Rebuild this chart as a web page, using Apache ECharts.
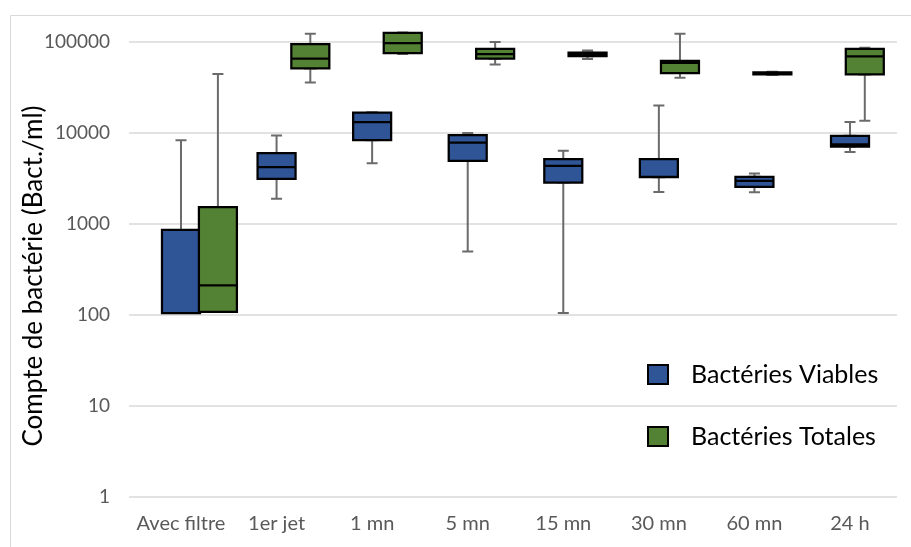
<!DOCTYPE html>
<html>
<head>
<meta charset="utf-8">
<script src="https://cdn.jsdelivr.net/npm/echarts@6/dist/echarts.min.js"></script>
<style>
html,body{margin:0;padding:0;background:#fff;}
#c{width:911px;height:547px;}
</style>
</head>
<body>
<div id="c"></div>
<script>
// ---- data ----
const categories = ['Avec filtre', '1er jet', '1 mn', '5 mn', '15 mn', '30 mn', '60 mn', '24 h'];
// [min, Q1, median, Q3, max]
const viables = [
  [105, 105, 105, 860, 8300],
  [1890, 3130, 4210, 6000, 9400],
  [4660, 8350, 13200, 16700, 16900],
  [500, 4940, 7850, 9470, 9970],
  [105, 2850, 4350, 5150, 6370],
  [2250, 3270, 3300, 5160, 20100],
  [2235, 2560, 2980, 3300, 3580],
  [6170, 7100, 7500, 9310, 13180]
];
const totales = [
  [108, 108, 212, 1530, 44400],
  [35900, 51200, 65500, 95000, 123400],
  [74000, 75700, 97500, 125600, 127000],
  [56700, 65500, 73800, 83800, 100000],
  [65200, 69800, 73000, 76200, 80800],
  [40500, 45600, 59000, 62000, 123400],
  [43500, 44000, 45000, 46500, 47000],
  [13600, 44000, 69500, 83800, 86500]
];
const yTicks = [1, 10, 100, 1000, 10000, 100000];
const seriesNames = ['Bactéries Viables', 'Bactéries Totales'];
const seriesColors = ['#2F5597', '#548235'];
const yName = 'Compte de bactérie (Bact./ml)';

// box-only view (whiskers collapsed to the box edges)
const boxOnly = d => d.map(r => [r[1], r[1], r[2], r[3], r[3]]);

const FONT = 'Lato';
const TOP = 42, H = 455;
const gridBlue = {left: 133.2, width: 764.6, top: TOP, height: H};
const gridGreen = {left: 171.7, width: 756.6, top: TOP, height: H};

const hiddenX = i => ({type: 'category', data: categories, gridIndex: i, show: false});
const hiddenY = i => ({type: 'log', logBase: 10, min: yTicks[0], max: yTicks[yTicks.length - 1], gridIndex: i, show: false});

const legendAt = (k, top) => ({
  data: [{name: seriesNames[k], itemStyle: {color: seriesColors[k], borderColor: '#000', borderWidth: 2}}],
  orient: 'vertical',
  left: 647, top: top, padding: 0,
  icon: 'rect',
  itemWidth: 20, itemHeight: 19,
  textStyle: {fontSize: 25, color: '#000', fontFamily: FONT, lineHeight: 19, padding: [0, 0, 0, 18]},
  selectedMode: false
});

const chart = echarts.init(document.getElementById('c'), null, {renderer: 'canvas'});
chart.setOption({
  animation: false,
  backgroundColor: '#fff',
  textStyle: {fontFamily: FONT},
  grid: [
    {left: 129, width: 768, top: TOP, height: H},
    gridBlue, gridBlue, gridGreen, gridGreen
  ],
  xAxis: [
    {type: 'category', data: categories, gridIndex: 0, axisLine: {show: false}, axisTick: {show: false}, axisLabel: {show: false}},
    {type: 'category', data: categories, gridIndex: 1, axisLine: {show: false}, axisTick: {show: false},
      axisLabel: {color: '#595959', fontSize: 20, fontFamily: FONT, margin: 17, interval: 0}},
    hiddenX(2), hiddenX(3), hiddenX(4)
  ],
  yAxis: [
    {type: 'log', logBase: 10, min: yTicks[0], max: yTicks[yTicks.length - 1], gridIndex: 0,
      axisLine: {show: false}, axisTick: {show: false},
      axisLabel: {color: '#595959', fontSize: 19, fontFamily: FONT, margin: 19, formatter: v => String(Math.round(v))},
      splitLine: {show: true, lineStyle: {color: '#d9d9d9', width: 1.5}}},
    hiddenY(1), hiddenY(2), hiddenY(3), hiddenY(4)
  ],
  legend: [legendAt(0, 362), legendAt(1, 424)],
  graphic: [
    {type: 'rect', shape: {x: 10.5, y: 15.5, width: 1000, height: 1000}, style: {fill: 'none', stroke: '#d9d9d9', lineWidth: 1}, silent: true, z: -1},
    {type: 'text', x: 34, y: 276, rotation: Math.PI / 2,
      style: {text: yName, fontSize: 26, fontFamily: FONT, fill: '#000', align: 'center', verticalAlign: 'middle'}}
  ],
  series: [
    {name: 'wv', type: 'boxplot', xAxisIndex: 1, yAxisIndex: 1, data: viables, boxWidth: [11, 11], z: 2,
      itemStyle: {color: 'rgba(0,0,0,0)', borderColor: '#6b6b6b', borderWidth: 2}, emphasis: {disabled: true}, silent: true},
    {name: seriesNames[0], type: 'boxplot', xAxisIndex: 2, yAxisIndex: 2, data: boxOnly(viables), boxWidth: [38, 38], z: 3,
      itemStyle: {color: seriesColors[0], borderColor: '#000', borderWidth: 2.25}, emphasis: {disabled: true}},
    {name: 'wt', type: 'boxplot', xAxisIndex: 3, yAxisIndex: 3, data: totales, boxWidth: [11, 11], z: 2,
      itemStyle: {color: 'rgba(0,0,0,0)', borderColor: '#6b6b6b', borderWidth: 2}, emphasis: {disabled: true}, silent: true},
    {name: seriesNames[1], type: 'boxplot', xAxisIndex: 4, yAxisIndex: 4, data: boxOnly(totales), boxWidth: [38, 38], z: 3,
      itemStyle: {color: seriesColors[1], borderColor: '#000', borderWidth: 2.25}, emphasis: {disabled: true}}
  ]
});
</script>
</body>
</html>
